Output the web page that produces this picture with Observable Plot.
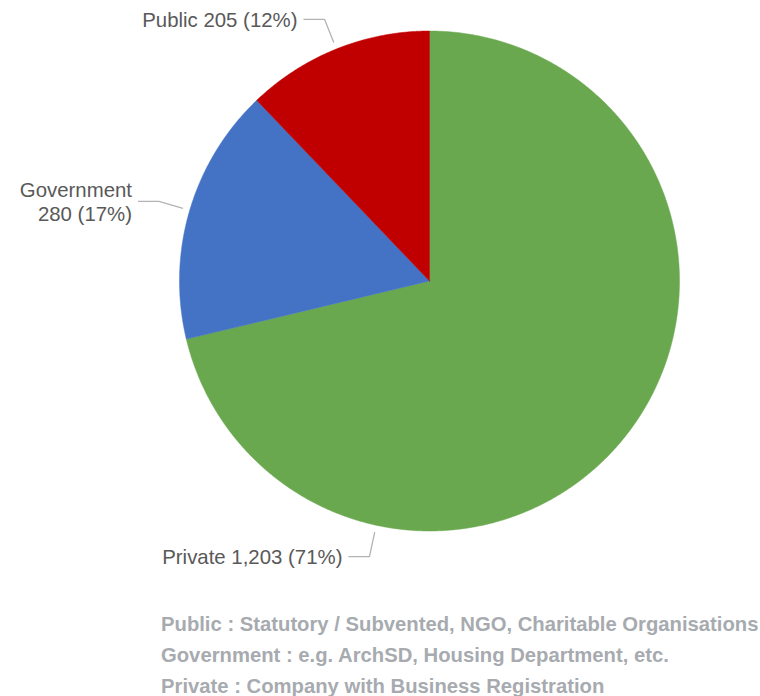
<!DOCTYPE html>
<html>
<head>
<meta charset="utf-8">
<script src="https://cdn.jsdelivr.net/npm/d3@7"></script>
<script src="https://cdn.jsdelivr.net/npm/@observablehq/plot@0.6"></script>
<style>
  html, body { margin: 0; padding: 0; background: #fff; }
  #chart { width: 760px; }
  #caption {
    margin: 9px 0 0 161px;
    font-family: "Liberation Sans", Arial, sans-serif;
    font-weight: bold;
    font-size: 20.25px;
    line-height: 31px;
    color: #a7abb0;
    white-space: nowrap;
  }
</style>
</head>
<body>
<div id="chart"></div>
<div id="caption"></div>
<script>
// ---- data ----
const categories = ["Private", "Government", "Public"];
const counts = [1203, 280, 205];
const percentLabels = ["71%", "17%", "12%"];
const definitions = [
  "Public : Statutory / Subvented, NGO, Charitable Organisations",
  "Government : e.g. ArchSD, Housing Department, etc.",
  "Private : Company with Business Registration"
];

// ---- layout (code, not data) ----
const W = 760, H = 600;
const cx = 429, cy = 280.5, R = 250;
const colorRange = ["#6aa84f", "#4472c4", "#c00000"];
const labelAngleOverride = {Private: 192.3};   // degrees, clockwise from top
const wrapLabel = {Government: true};

const rows = categories.map((name, i) => ({name, count: counts[i], pct: percentLabels[i]}));
const arcs = d3.pie().sort(null).value(d => d.count)(rows);

const pt = (a, r) => ({x: cx + r * Math.sin(a), y: cy - r * Math.cos(a)});

// slice polygons
const slicePts = [];
arcs.forEach(arc => {
  const name = arc.data.name;
  slicePts.push({name, ...pt(0, 0)});
  const n = Math.max(2, Math.ceil((arc.endAngle - arc.startAngle) / (Math.PI / 720)));
  for (let k = 0; k <= n; k++) {
    const a = arc.startAngle + (arc.endAngle - arc.startAngle) * k / n;
    slicePts.push({name, ...pt(a, R)});
  }
  slicePts.push({name, ...pt(0, 0)});
});

// leader lines and labels
const leaderPts = [];
const labels = [];
const fmt = d3.format(",");
arcs.forEach(arc => {
  const name = arc.data.name;
  const a = labelAngleOverride[name] != null
    ? labelAngleOverride[name] * Math.PI / 180
    : (arc.startAngle + arc.endAngle) / 2;
  const p0 = pt(a, R + 7);
  const p1 = pt(a, R + 32);
  const p2 = {x: p1.x - 21, y: p1.y};
  leaderPts.push({name, ...p0}, {name, ...p1}, {name, ...p2});
  const sep = wrapLabel[name] ? "\n" : " ";
  labels.push({
    name,
    x: p2.x - 6,
    y: p2.y,
    text: `${name}${sep}${fmt(arc.data.count)} (${arc.data.pct})`
  });
});

const chart = Plot.plot({
  width: W,
  height: H,
  margin: 0,
  x: {domain: [0, W], range: [0, W], axis: null},
  y: {domain: [0, H], range: [0, H], axis: null},
  color: {domain: categories, range: colorRange},
  style: {fontFamily: "'Liberation Sans', Arial, sans-serif", background: "#fff"},
  marks: [
    Plot.line(slicePts, {x: "x", y: "y", z: "name", fill: "name", stroke: "name", strokeWidth: 0.5, curve: "linear"}),
    Plot.line(leaderPts, {x: "x", y: "y", z: "name", stroke: "#b3b3b3", strokeWidth: 1.3, strokeLinejoin: "miter", strokeLinecap: "butt"}),
    Plot.text(labels, {x: "x", y: "y", text: "text", textAnchor: "end", lineAnchor: "middle", lineHeight: 1.2, fontSize: 20.4, fill: "#595959"})
  ]
});
document.getElementById("chart").appendChild(chart);

document.getElementById("caption").innerHTML = definitions.map(t => `<div>${t}</div>`).join("");
</script>
</body>
</html>
